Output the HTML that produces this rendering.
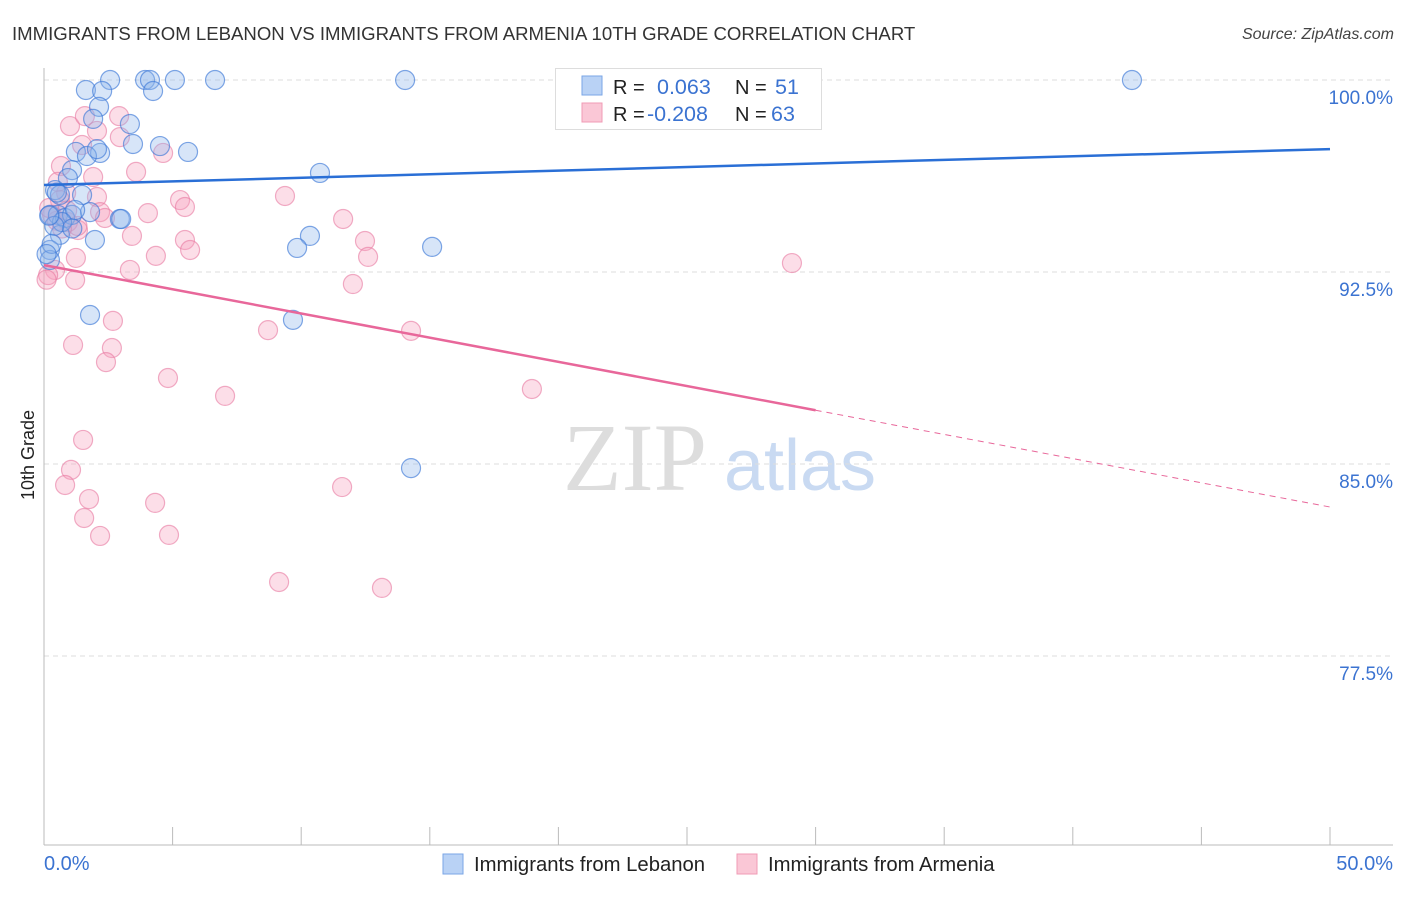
<!DOCTYPE html>
<html><head><meta charset="utf-8"><style>
body{margin:0;background:#fff;font-family:"Liberation Sans",sans-serif;}
svg text{font-family:"Liberation Sans",sans-serif;}
</style></head><body>
<svg id="chart" width="1406" height="892" xmlns="http://www.w3.org/2000/svg">
<text x="12" y="40" font-size="18.6" fill="#333">IMMIGRANTS FROM LEBANON VS IMMIGRANTS FROM ARMENIA 10TH GRADE CORRELATION CHART</text>
<text x="1394" y="39" font-size="16" fill="#444" font-style="italic" text-anchor="end">Source: ZipAtlas.com</text>
<g>
<text x="635" y="490" font-size="96" fill="#ddd" text-anchor="middle" style="font-family:'Liberation Serif',serif">ZIP</text>
<text x="800" y="490" font-size="72" fill="#c9daf2" text-anchor="middle">atlas</text>
</g>
<g id="grid"></g>
<line x1="44" y1="68" x2="44" y2="845" stroke="#bbb"/>
<line x1="44" y1="845" x2="1393" y2="845" stroke="#bbb"/>
<g id="xticks"></g>
<g id="yticks"></g>
<text x="34" y="455" font-size="18" fill="#222" text-anchor="middle" transform="rotate(-90 34 455)">10th Grade</text>
<text x="44" y="870" font-size="20" fill="#3b73d1">0.0%</text>
<text x="1393" y="870" font-size="20" fill="#3b73d1" text-anchor="end">50.0%</text>
<g id="pts"></g>
<g id="lines"></g>
<g>
<rect x="555.5" y="68.5" width="266" height="61" fill="#fff" stroke="#ddd"/>
<rect x="582" y="76" width="20" height="19" fill="#b9d2f5" stroke="#7aa6e6"/>
<rect x="582" y="103" width="20" height="19" fill="#fac7d6" stroke="#f09bb5"/>
<text x="613" y="94" font-size="20" fill="#222">R =</text>
<text x="657" y="94" font-size="21.5" fill="#3b73d1">0.063</text>
<text x="735" y="94" font-size="20" fill="#222">N =</text>
<text x="775" y="94" font-size="21.5" fill="#3b73d1">51</text>
<text x="613" y="121" font-size="20" fill="#222">R =</text>
<text x="647" y="121" font-size="21.5" fill="#3b73d1">-0.208</text>
<text x="735" y="121" font-size="20" fill="#222">N =</text>
<text x="771" y="121" font-size="21.5" fill="#3b73d1">63</text>
</g>
<g>
<rect x="443" y="854" width="20" height="20" fill="#b9d2f5" stroke="#7aa6e6"/>
<text x="474" y="871" font-size="20.3" fill="#222">Immigrants from Lebanon</text>
<rect x="737" y="854" width="20" height="20" fill="#fac7d6" stroke="#f09bb5"/>
<text x="768" y="871" font-size="20.3" fill="#222">Immigrants from Armenia</text>
</g>
</svg>
<script>
const yTicks=[100,92.5,85,77.5];
const yTickLabels=["100.0%","92.5%","85.0%","77.5%"];
const xTicks=[0,5,10,15,20,25,30,35,40,45,50];
const blueX=[2.57,3.93,4.12,5.09,6.65,14.04,42.3,1.63,2.26,4.24,2.14,1.91,3.34,3.46,4.51,5.6,1.24,2.18,1.67,2.06,1.09,10.73,0.93,1.48,0.43,0.62,0.23,0.54,0.82,1.09,1.79,2.95,1.21,0.62,1.98,10.34,9.84,15.09,0.23,0.23,1.79,9.68,14.27,0.7,3.0,0.4,1.1,0.3,0.1,0.2,0.5];
const blueY=[100,100,100,100,100,100,100,99.61,99.57,99.57,98.95,98.48,98.28,97.5,97.42,97.19,97.19,97.15,97.03,97.3,96.48,96.37,96.17,95.51,95.7,95.51,94.73,94.73,94.61,94.73,94.84,94.57,94.92,93.95,93.75,93.91,93.44,93.48,93.36,92.97,90.82,90.63,84.84,94.45,94.57,94.3,94.2,93.6,93.2,94.7,95.6];
const pinkX=[1.01,1.59,2.92,2.06,2.95,1.48,4.63,0.66,3.58,1.91,0.54,9.37,5.29,0.86,2.06,5.48,4.04,2.18,2.37,11.63,1.32,3.42,5.48,12.48,5.68,4.35,1.24,12.6,29.08,3.34,0.43,1.21,12.01,2.68,8.71,14.27,1.13,2.64,2.41,4.82,7.04,18.97,1.52,1.05,0.82,11.59,1.75,4.32,1.56,2.18,4.86,9.14,13.14,0.16,0.93,0.62,0.31,0.1,0.5,0.9,1.3,0.2,0.7];
const pinkY=[98.2,98.59,98.59,98.01,97.77,97.46,97.15,96.64,96.41,96.21,96.02,95.47,95.31,95.59,95.43,95.04,94.8,94.84,94.61,94.57,94.14,93.91,93.75,93.71,93.36,93.13,93.05,93.09,92.85,92.58,92.58,92.19,92.03,90.59,90.23,90.2,89.65,89.53,88.98,88.36,87.66,87.93,85.94,84.77,84.18,84.1,83.63,83.48,82.89,82.19,82.23,80.39,80.16,92.38,94.45,95.31,94.73,92.2,94.5,94.9,94.3,95.0,94.2];
const blueLine=[[0,95.9],[50,97.3]];
const pinkLine=[[0,92.77],[30,87.1],[50,83.32]];
const sx=v=>44+v*25.72, sy=v=>80+(100-v)*25.6;
const NS="http://www.w3.org/2000/svg";
function mk(tag,attrs,parent){const e=document.createElementNS(NS,tag);for(const k in attrs)e.setAttribute(k,attrs[k]);parent.appendChild(e);return e;}
const grid=document.getElementById('grid'),yt=document.getElementById('yticks'),xt=document.getElementById('xticks');
yTicks.forEach((t,i)=>{
 const l=mk('line',{x1:44,x2:1393,y1:sy(t),y2:sy(t),stroke:'#ddd','stroke-dasharray':'5,4'},grid);
 
 
 const tx=mk('text',{x:1393,y:sy(t)+24,'font-size':19,fill:'#3b73d1','text-anchor':'end'},yt);
 tx.textContent=yTickLabels[i];
 
 
});
xTicks.forEach(t=>{
 const l=mk('line',{x1:sx(t),x2:sx(t),y1:827,y2:845,stroke:'#bbb'},xt);
 
 
});
const pts=document.getElementById('pts');
pinkX.forEach((x,i)=>{
 const c=mk('circle',{cx:sx(x),cy:sy(pinkY[i]),r:9.5,fill:'rgba(246,160,188,0.35)',stroke:'rgba(232,120,160,0.6)','stroke-width':1.2},pts);
 
 
});
blueX.forEach((x,i)=>{
 const c=mk('circle',{cx:sx(x),cy:sy(blueY[i]),r:9.5,fill:'rgba(140,180,235,0.35)',stroke:'rgba(60,120,215,0.65)','stroke-width':1.2},pts);
 
 
});
const lines=document.getElementById('lines');
const bl=mk('line',{x1:sx(blueLine[0][0]),y1:sy(blueLine[0][1]),x2:sx(blueLine[1][0]),y2:sy(blueLine[1][1]),stroke:'#2a6fd6','stroke-width':2.5},lines);


const pl=mk('line',{x1:sx(pinkLine[0][0]),y1:sy(pinkLine[0][1]),x2:sx(pinkLine[1][0]),y2:sy(pinkLine[1][1]),stroke:'#e8679a','stroke-width':2.5},lines);


const pd=mk('line',{x1:sx(pinkLine[1][0]),y1:sy(pinkLine[1][1]),x2:sx(pinkLine[2][0]),y2:sy(pinkLine[2][1]),stroke:'#e8679a','stroke-width':1,'stroke-dasharray':'6,5'},lines);


</script>
</body></html>
